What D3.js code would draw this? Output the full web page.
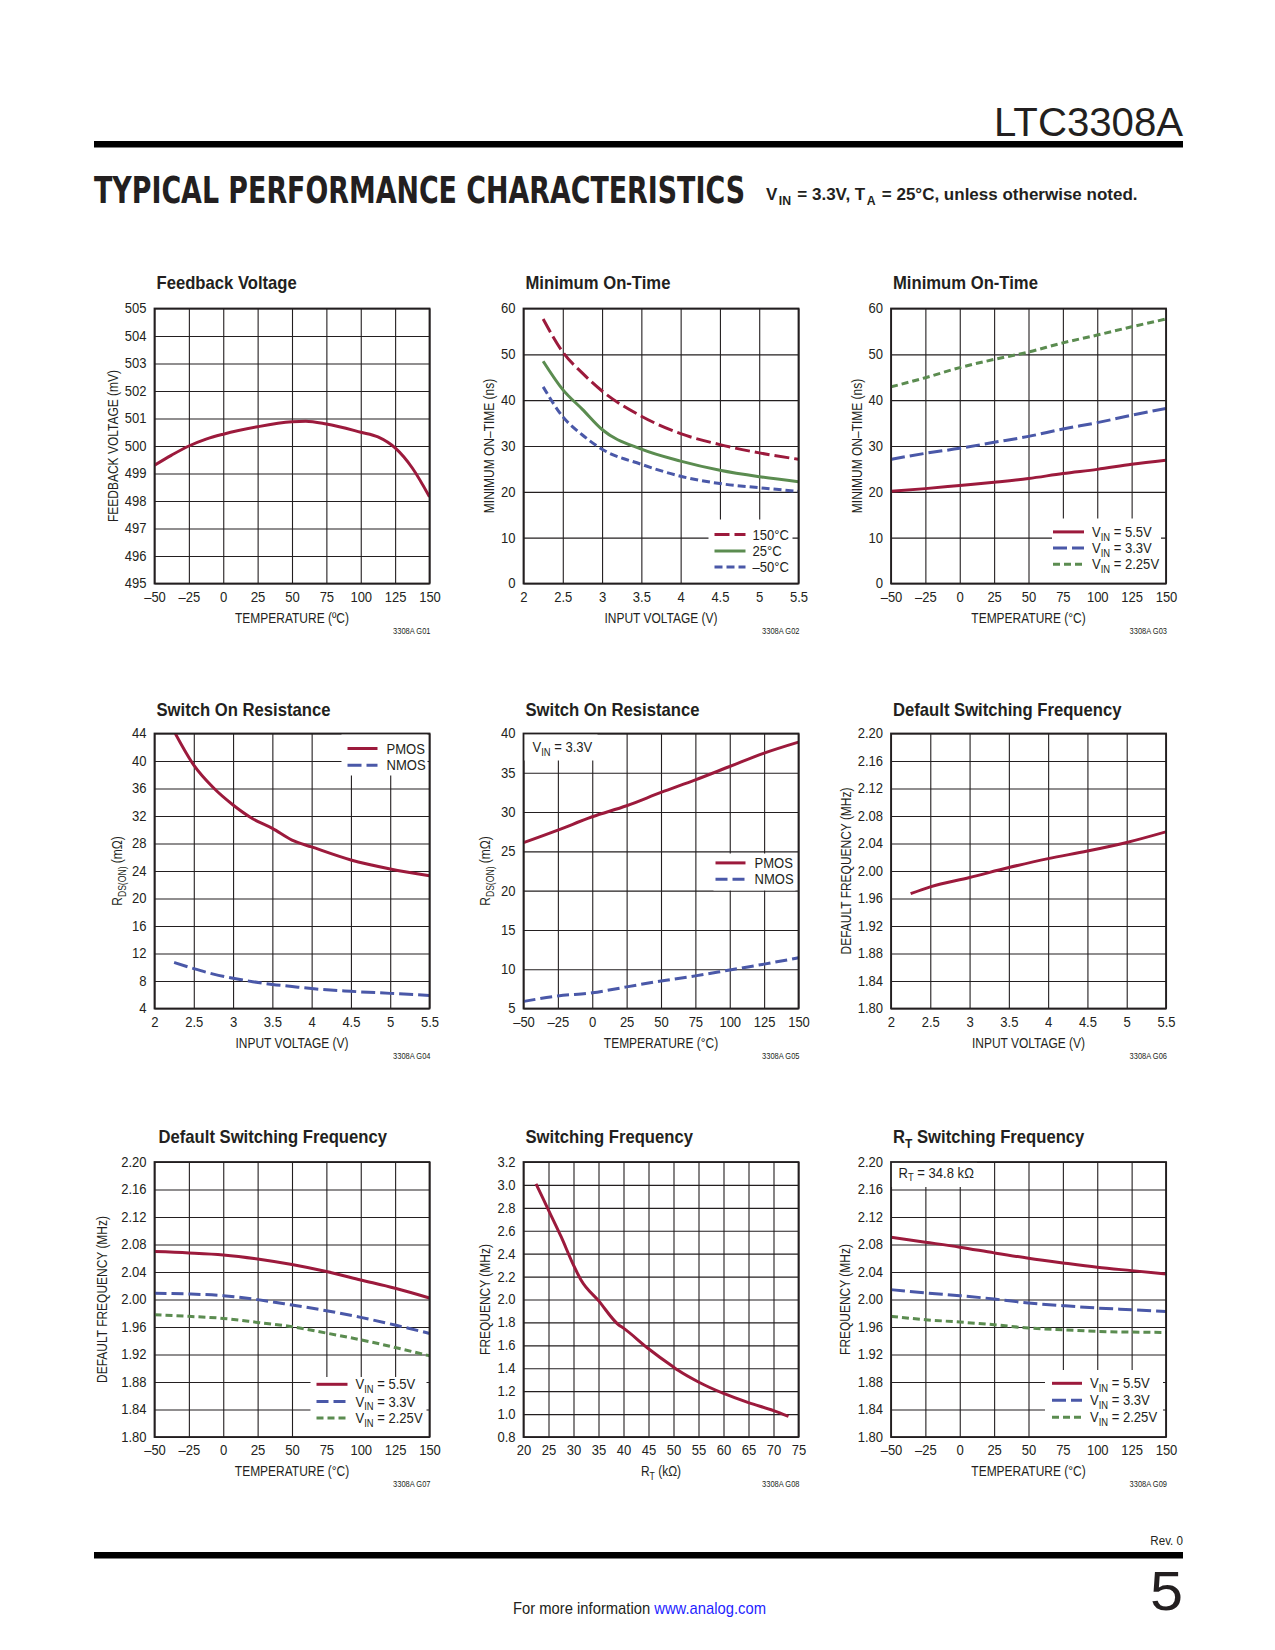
<!DOCTYPE html>
<html>
<head>
<meta charset="utf-8">
<script src="https://cdn.jsdelivr.net/npm/d3@7"></script>
<style>
  body { margin: 0; background: #fff; }
  svg text { font-family: "Liberation Sans", Arial, sans-serif; fill: #231f20; }
</style>
</head>
<body>
<svg id="page" width="1275" height="1650"></svg>
<script>
// ── Tick values ──────────────────────────────────────────────
const tempTicks = [-50, -25, 0, 25, 50, 75, 100, 125, 150];
const vinTicks  = [2, 2.5, 3, 3.5, 4, 4.5, 5, 5.5];
const rtTicks   = [20, 25, 30, 35, 40, 45, 50, 55, 60, 65, 70, 75];
const fbTicks   = [495, 496, 497, 498, 499, 500, 501, 502, 503, 504, 505];
const mintTicks = [0, 10, 20, 30, 40, 50, 60];
const rdsVinTicks = [4, 8, 12, 16, 20, 24, 28, 32, 36, 40, 44];
const rdsTempTicks = [5, 10, 15, 20, 25, 30, 35, 40];
const fswTicks  = [1.80, 1.84, 1.88, 1.92, 1.96, 2.00, 2.04, 2.08, 2.12, 2.16, 2.20];
const fRtTicks  = [0.8, 1.0, 1.2, 1.4, 1.6, 1.8, 2.0, 2.2, 2.4, 2.6, 2.8, 3.0, 3.2];

// ── G01 Feedback voltage vs temperature ─────────────────────
const fbTemp    = [-50, -37.5, -25, -12.5, 0, 25, 50, 60, 75, 100, 112.5, 125, 137.5, 150];
const fbVoltage = [499.3, 499.67, 500.0, 500.25, 500.43, 500.7, 500.88, 500.9, 500.8, 500.5, 500.33, 499.93, 499.2, 498.15];

// ── G02 Minimum on-time vs input voltage ────────────────────
const mintVin  = [2.25, 2.5, 2.75, 3, 3.5, 4, 4.5, 5, 5.5];
const mint150  = [57.7, 50.5, 45.9, 42.0, 36.5, 32.7, 30.3, 28.5, 27.1];
const mint25   = [48.5, 42.3, 38.0, 33.6, 29.3, 26.7, 24.7, 23.3, 22.2];
const mintM50  = [42.9, 36.4, 32.4, 29.3, 26.0, 23.4, 21.8, 20.9, 20.1];

// ── G03 Minimum on-time vs temperature ──────────────────────
const mintTemp = [-50, -25, 0, 25, 50, 75, 100, 125, 150];
const mintV225 = [42.9, 44.9, 47.1, 48.9, 50.5, 52.5, 54.2, 56.0, 57.7];
const mintV33  = [27.1, 28.4, 29.5, 30.8, 32.1, 33.7, 35.1, 36.7, 38.2];
const mintV55  = [20.1, 20.7, 21.4, 22.1, 22.9, 24.0, 24.9, 26.0, 26.9];

// ── G04 Switch on resistance vs input voltage ───────────────
const rdsVin     = [2.25, 2.5, 2.75, 3, 3.25, 3.5, 3.75, 4, 4.5, 5, 5.5];
const rdsPmosVin = [44.3, 39.4, 36.1, 33.6, 31.6, 30.2, 28.5, 27.5, 25.6, 24.3, 23.3];
const rdsNmosVin = [10.7, 9.8, 9.0, 8.4, 7.9, 7.5, 7.2, 6.9, 6.5, 6.2, 5.9];

// ── G05 Switch on resistance vs temperature ─────────────────
const rdsTemp   = [-50, -25, 0, 25, 50, 75, 100, 125, 150];
const rdsPmosT  = [26.1, 27.7, 29.4, 30.8, 32.5, 34.1, 35.8, 37.5, 38.9];
const rdsNmosT  = [5.9, 6.6, 7.0, 7.75, 8.5, 9.15, 9.9, 10.65, 11.45];

// ── G06 Default switching frequency vs input voltage ────────
const fswVin     = [2.25, 2.5, 3, 3.5, 4, 4.5, 5, 5.5];
const fswVinFreq = [1.967, 1.977, 1.9905, 2.005, 2.018, 2.029, 2.0415, 2.057];

// ── G07 Default switching frequency vs temperature ──────────
const fswTemp = [-50, -25, 0, 25, 50, 75, 100, 125, 150];
const fsw55   = [2.0697, 2.0678, 2.0649, 2.059, 2.0508, 2.0406, 2.0284, 2.0163, 2.0022];
const fsw33   = [2.009, 2.008, 2.0056, 1.9998, 1.992, 1.9837, 1.974, 1.9628, 1.9507];
const fsw225  = [1.9779, 1.9755, 1.9725, 1.9667, 1.9604, 1.9512, 1.9414, 1.9302, 1.9181];

// ── G08 Switching frequency vs RT ───────────────────────────
const rtKohm = [22.5, 25, 27.5, 30, 31.5, 35, 39, 40, 45, 50, 51, 55, 60, 65, 70, 73];
const rtFreq = [3.01, 2.78, 2.55, 2.30, 2.17, 1.99, 1.78, 1.75, 1.57, 1.41, 1.38, 1.28, 1.18, 1.10, 1.03, 0.98];

// ── G09 RT switching frequency vs temperature ───────────────
const rtTemp = [-50, -25, 0, 25, 50, 75, 100, 125, 150];
const rt55   = [2.0906, 2.0834, 2.0761, 2.0678, 2.06, 2.0532, 2.0469, 2.042, 2.0372];
const rt33   = [2.0143, 2.0095, 2.0056, 2.0007, 1.9949, 1.991, 1.9876, 1.9852, 1.9827];
const rt225  = [1.9755, 1.9706, 1.9672, 1.9633, 1.9585, 1.956, 1.9536, 1.9526, 1.9521];

// ── Layout / style ──────────────────────────────────────────
const RED = '#9c1a3c', BLUE = '#4a58a8', GREEN = '#5b8c50';
const colX = [154.5, 523.5, 891];
const rowY = [308.5, 733.5, 1162];
const titleDy = [-20, -17.5, -19];
const W = 275, H = 275;

const fmtTemp = d => d < 0 ? '\u2013' + Math.abs(d) : String(d);
const fmtPlain = d => String(d);
const fmt2 = d3.format('.2f');
const fmt1 = d3.format('.1f');

const svg = d3.select('#page');

// Text with _{sub} markup → tspans (gap: extra px around the subscript)
const rich = (sel, str, size, gap = 0) => {
    const parts = str.split(/(_\{[^}]*\})/).filter(s => s);
    let shifted = false;
    parts.forEach(p => {
        const m = p.match(/^_\{(.*)\}$/);
        const t = sel.append('tspan').text(m ? m[1] : p);
        if (m) {
            t.attr('font-size', size * 0.72).attr('dy', size * 0.27);
            if (gap) t.attr('dx', gap);
            shifted = true;
        } else if (shifted) {
            t.attr('dy', -size * 0.27);
            if (gap) t.attr('dx', gap);
            shifted = false;
        }
    });
    return sel;
};

// Helvetica Condensed look: squeeze Liberation Sans horizontally
const squeeze = (selector, f) => {
    svg.selectAll(selector).each(function () {
        const len = this.getComputedTextLength();
        this.setAttribute('textLength', (len * f).toFixed(1));
        this.setAttribute('lengthAdjust', 'spacingAndGlyphs');
    });
};

const charts = [
    {
        col: 0, row: 0, id: '3308A G01', title: 'Feedback Voltage',
        xDomain: [-50, 150], xTicks: tempTicks, xFmt: fmtTemp, xLabel: 'TEMPERATURE (\u00BAC)',
        yDomain: [495, 505], yTicks: fbTicks, yFmt: fmtPlain, yLabel: 'FEEDBACK VOLTAGE (mV)', yLabelX: -41,
        series: [{ x: fbTemp, y: fbVoltage, color: RED }]
    },
    {
        col: 1, row: 0, id: '3308A G02', title: 'Minimum On-Time',
        xDomain: [2, 5.5], xTicks: vinTicks, xFmt: fmtPlain, xLabel: 'INPUT VOLTAGE (V)',
        yDomain: [0, 60], yTicks: mintTicks, yFmt: fmtPlain, yLabel: 'MINIMUM ON\u2013TIME (ns)', yLabelX: -34,
        series: [
            { x: mintVin, y: mint150, color: RED, dash: '15,5', label: '150\u00B0C' },
            { x: mintVin, y: mint25, color: GREEN, label: '25\u00B0C' },
            { x: mintVin, y: mintM50, color: BLUE, dash: '8,4', label: '\u201350\u00B0C' }
        ],
        legend: { box: [185, 211, 84, 64], lx: [191, 222], tx: 229, rows: [226, 242.5, 258.5] }
    },
    {
        col: 2, row: 0, id: '3308A G03', title: 'Minimum On-Time',
        xDomain: [-50, 150], xTicks: tempTicks, xFmt: fmtTemp, xLabel: 'TEMPERATURE (\u00B0C)',
        yDomain: [0, 60], yTicks: mintTicks, yFmt: fmtPlain, yLabel: 'MINIMUM ON\u2013TIME (ns)', yLabelX: -34,
        series: [
            { x: mintTemp, y: mintV55, color: RED, label: 'V_{IN} = 5.5V' },
            { x: mintTemp, y: mintV33, color: BLUE, dash: '14,5', label: 'V_{IN} = 3.3V' },
            { x: mintTemp, y: mintV225, color: GREEN, dash: '7,4', label: 'V_{IN} = 2.25V' }
        ],
        legend: { box: [161, 210, 109, 65], lx: [162, 193], tx: 201, rows: [223.4, 239.5, 255.7] }
    },
    {
        col: 0, row: 1, id: '3308A G04', title: 'Switch On Resistance',
        xDomain: [2, 5.5], xTicks: vinTicks, xFmt: fmtPlain, xLabel: 'INPUT VOLTAGE (V)',
        yDomain: [4, 44], yTicks: rdsVinTicks, yFmt: fmtPlain, yLabel: 'R_{DS(ON)} (m\u03A9)', yLabelX: -37,
        series: [
            { x: rdsVin, y: rdsPmosVin, color: RED, label: 'PMOS' },
            { x: rdsVin, y: rdsNmosVin, color: BLUE, dash: '14,5', label: 'NMOS' }
        ],
        legend: { box: [187, 0, 86, 42], lx: [193, 223], tx: 232, rows: [15, 31.7] }
    },
    {
        col: 1, row: 1, id: '3308A G05', title: 'Switch On Resistance',
        xDomain: [-50, 150], xTicks: tempTicks, xFmt: fmtTemp, xLabel: 'TEMPERATURE (\u00B0C)',
        yDomain: [5, 40], yTicks: rdsTempTicks, yFmt: fmtPlain, yLabel: 'R_{DS(ON)} (m\u03A9)', yLabelX: -38,
        series: [
            { x: rdsTemp, y: rdsPmosT, color: RED, label: 'PMOS' },
            { x: rdsTemp, y: rdsNmosT, color: BLUE, dash: '12,5', label: 'NMOS' }
        ],
        legend: { box: [190, 120, 82, 37], lx: [192, 222], tx: 231, rows: [129.4, 145.7] },
        note: { text: 'V_{IN} = 3.3V', box: [0, 0, 74, 27], x: 9, y: 18.4 }
    },
    {
        col: 2, row: 1, id: '3308A G06', title: 'Default Switching Frequency',
        xDomain: [2, 5.5], xTicks: vinTicks, xFmt: fmtPlain, xLabel: 'INPUT VOLTAGE (V)',
        yDomain: [1.80, 2.20], yTicks: fswTicks, yFmt: fmt2, yLabel: 'DEFAULT FREQUENCY (MHz)', yLabelX: -45,
        series: [{ x: fswVin, y: fswVinFreq, color: RED }]
    },
    {
        col: 0, row: 2, id: '3308A G07', title: 'Default Switching Frequency', titleDx: 4,
        xDomain: [-50, 150], xTicks: tempTicks, xFmt: fmtTemp, xLabel: 'TEMPERATURE (\u00B0C)',
        yDomain: [1.80, 2.20], yTicks: fswTicks, yFmt: fmt2, yLabel: 'DEFAULT FREQUENCY (MHz)', yLabelX: -52.5,
        series: [
            { x: fswTemp, y: fsw55, color: RED, label: 'V_{IN} = 5.5V' },
            { x: fswTemp, y: fsw33, color: BLUE, dash: '12,5', label: 'V_{IN} = 3.3V' },
            { x: fswTemp, y: fsw225, color: GREEN, dash: '7,4', label: 'V_{IN} = 2.25V' }
        ],
        legend: { box: [156, 215, 116, 60], lx: [162, 193], tx: 201, rows: [222.3, 239.5, 256] }
    },
    {
        col: 1, row: 2, id: '3308A G08', title: 'Switching Frequency',
        xDomain: [20, 75], xTicks: rtTicks, xFmt: fmtPlain, xLabel: 'R_{T} (k\u03A9)',
        yDomain: [0.8, 3.2], yTicks: fRtTicks, yFmt: fmt1, yLabel: 'FREQUENCY (MHz)', yLabelX: -38,
        series: [{ x: rtKohm, y: rtFreq, color: RED }]
    },
    {
        col: 2, row: 2, id: '3308A G09', title: 'R_{T} Switching Frequency',
        xDomain: [-50, 150], xTicks: tempTicks, xFmt: fmtTemp, xLabel: 'TEMPERATURE (\u00B0C)',
        yDomain: [1.80, 2.20], yTicks: fswTicks, yFmt: fmt2, yLabel: 'FREQUENCY (MHz)', yLabelX: -45.5,
        series: [
            { x: rtTemp, y: rt55, color: RED, label: 'V_{IN} = 5.5V' },
            { x: rtTemp, y: rt33, color: BLUE, dash: '14,5', label: 'V_{IN} = 3.3V' },
            { x: rtTemp, y: rt225, color: GREEN, dash: '7,4', label: 'V_{IN} = 2.25V' }
        ],
        legend: { box: [154, 208, 118, 67], lx: [161, 191], tx: 199, rows: [221.3, 238.3, 255.3] },
        note: { text: 'R_{T} = 34.8 k\u03A9', box: [0, 0, 86, 25], x: 7.5, y: 15.5 }
    }
];

const drawChart = (cfg, i) => {
    const left = colX[cfg.col], top = rowY[cfg.row];
    const g = svg.append('g').attr('transform', `translate(${left},${top})`);
    const x = d3.scaleLinear().domain(cfg.xDomain).range([0, W]);
    const y = d3.scaleLinear().domain(cfg.yDomain).range([H, 0]);

    // Grid + tick labels
    const xAxis = g.append('g')
        .attr('transform', `translate(0,${H})`)
        .call(d3.axisBottom(x).tickValues(cfg.xTicks).tickFormat(cfg.xFmt).tickSize(-H).tickPadding(8.5));
    const yAxis = g.append('g')
        .call(d3.axisLeft(y).tickValues(cfg.yTicks).tickFormat(cfg.yFmt).tickSize(-W).tickPadding(8));
    [xAxis, yAxis].forEach(a => {
        a.attr('font-size', 14);
        a.select('.domain').remove();
        a.selectAll('.tick line').attr('stroke', '#231f20').attr('stroke-width', 1.1);
        a.selectAll('.tick text').classed('tick-label', true);
    });

    // White boxes behind legend / notes
    if (cfg.legend) {
        const b = cfg.legend.box;
        g.append('rect').attr('x', b[0]).attr('y', b[1]).attr('width', b[2]).attr('height', b[3]).attr('fill', '#fff');
    }
    if (cfg.note) {
        const b = cfg.note.box;
        g.append('rect').attr('x', b[0]).attr('y', b[1]).attr('width', b[2]).attr('height', b[3]).attr('fill', '#fff');
    }

    // Curves
    const clipId = 'clip' + i;
    g.append('clipPath').attr('id', clipId)
        .append('rect').attr('width', W).attr('height', H);
    const line = d3.line().x(d => x(d[0])).y(d => y(d[1])).curve(d3.curveMonotoneX);
    const curves = g.append('g').attr('clip-path', `url(#${clipId})`);
    cfg.series.forEach(s => {
        curves.append('path')
            .datum(s.x.map((v, k) => [v, s.y[k]]))
            .attr('fill', 'none')
            .attr('stroke', s.color)
            .attr('stroke-width', 3)
            .attr('stroke-dasharray', s.dash || null)
            .attr('d', line);
    });

    // Frame
    g.append('rect').attr('width', W).attr('height', H)
        .attr('fill', 'none').attr('stroke', '#231f20').attr('stroke-width', 1.8);

    // Legend
    if (cfg.legend) {
        const L = cfg.legend;
        cfg.series.forEach((s, k) => {
            g.append('line')
                .attr('x1', L.lx[0]).attr('x2', L.lx[1])
                .attr('y1', L.rows[k]).attr('y2', L.rows[k])
                .attr('stroke', s.color).attr('stroke-width', 3)
                .attr('stroke-dasharray', s.dash || null);
            rich(g.append('text').attr('class', 'legend-text')
                .attr('x', L.tx).attr('y', L.rows[k] + 5).attr('font-size', 14.5), s.label, 14.5);
        });
    }
    if (cfg.note) {
        rich(g.append('text').attr('class', 'legend-text')
            .attr('x', cfg.note.x).attr('y', cfg.note.y).attr('font-size', 14.5), cfg.note.text, 14.5);
    }

    // Title
    rich(g.append('text').attr('class', 'chart-title')
        .attr('x', cfg.titleDx || 2).attr('y', titleDy[cfg.row])
        .attr('font-size', 18.5).attr('font-weight', 'bold'), cfg.title, 18.5);

    // Axis titles
    rich(g.append('text').attr('class', 'axis-title')
        .attr('x', W / 2).attr('y', H + 39)
        .attr('text-anchor', 'middle').attr('font-size', 14), cfg.xLabel, 14);
    rich(g.append('text').attr('class', 'axis-title')
        .attr('transform', `translate(${cfg.yLabelX},${H / 2}) rotate(-90)`)
        .attr('dy', '0.35em')
        .attr('text-anchor', 'middle').attr('font-size', 14), cfg.yLabel, 14);

    // Figure id
    g.append('text').attr('class', 'fig-id')
        .attr('x', W + 1).attr('y', H + 50)
        .attr('text-anchor', 'end').attr('font-size', 8.5)
        .text(cfg.id);
};

charts.forEach(drawChart);

// ── Page furniture ──────────────────────────────────────────
svg.append('text')
    .attr('x', 1183).attr('y', 136)
    .attr('text-anchor', 'end')
    .attr('font-size', 41)
    .attr('textLength', 189).attr('lengthAdjust', 'spacingAndGlyphs')
    .text('LTC3308A');

svg.append('rect').attr('x', 94).attr('y', 141).attr('width', 1089).attr('height', 6.5).attr('fill', '#000');

svg.append('text')
    .attr('x', 94).attr('y', 202.5)
    .style('font-family', '"DejaVu Sans Condensed", "DejaVu Sans", sans-serif')
    .attr('font-weight', 'bold')
    .attr('font-size', 37)
    .attr('textLength', 651).attr('lengthAdjust', 'spacingAndGlyphs')
    .text('TYPICAL PERFORMANCE CHARACTERISTICS');

rich(svg.append('text')
    .attr('x', 766).attr('y', 200)
    .attr('font-weight', 'bold')
    .attr('font-size', 17),
    'V_{IN} = 3.3V, T_{A} = 25\u00B0C, unless otherwise noted.', 17, 1.5);

svg.append('text').attr('class', 'rev')
    .attr('x', 1183).attr('y', 1545)
    .attr('text-anchor', 'end').attr('font-size', 12.5)
    .text('Rev. 0');

svg.append('rect').attr('x', 94).attr('y', 1552).attr('width', 1089).attr('height', 6.5).attr('fill', '#000');

svg.append('text')
    .attr('x', 1183).attr('y', 1609.5)
    .attr('text-anchor', 'end')
    .attr('font-size', 56)
    .attr('textLength', 33).attr('lengthAdjust', 'spacingAndGlyphs')
    .text('5');

const foot = svg.append('text')
    .attr('x', 513).attr('y', 1614)
    .attr('font-size', 17)
    .attr('textLength', 253).attr('lengthAdjust', 'spacingAndGlyphs');
foot.append('tspan').text('For more information ');
foot.append('tspan').style('fill', '#1f1fff').text('www.analog.com');

// Condense the text the way the datasheet face is set
squeeze('.tick-label', 0.93);
squeeze('.axis-title', 0.855);
squeeze('.legend-text', 0.9);
squeeze('.chart-title', 0.9);
squeeze('.fig-id', 0.88);
squeeze('.rev', 0.93);
</script>
</body>
</html>
